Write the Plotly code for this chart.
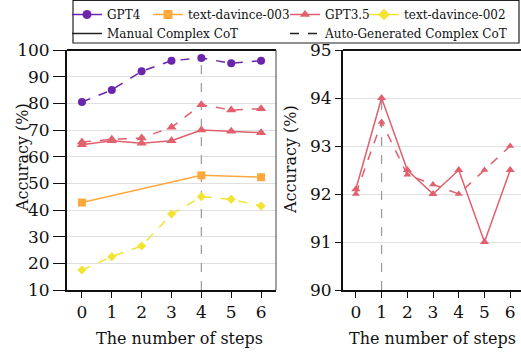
import plotly.graph_objects as go

steps = [0, 1, 2, 3, 4, 5, 6]
gpt4_auto = [80.5, 85, 92, 96, 97, 95, 96]
gpt35_auto = [65.5, 66.5, 67, 71, 79.5, 77.5, 78]
gpt35_manual = [64.5, 66, 65, 66, 70, 69.5, 69]
dv003_steps = [0, 4, 6]
dv003_manual = [42.8, 53, 52.3]
dv002_auto = [17.5, 22.5, 26.5, 38.5, 45, 44, 41.5]

r_gpt35_manual = [92.1, 94.0, 92.5, 92.0, 92.5, 91.0, 92.5]
r_gpt35_auto = [92.0, 93.5, 92.4, 92.2, 92.0, 92.5, 93.0]

left_best_step = 4
right_best_step = 1

C_GPT4 = "#6b25ad"
C_003 = "#fca83c"
C_35 = "#e0606e"
C_002 = "#f2e431"
FONT = "DejaVu Serif"

fig = go.Figure()

def add(x, y, color, symbol, dash, xa, ya, size=9):
    fig.add_trace(go.Scatter(x=x, y=y, mode="lines+markers", xaxis=xa, yaxis=ya,
                             line=dict(color=color, width=1.5, dash=dash),
                             marker=dict(color=color, symbol=symbol, size=size),
                             showlegend=False))

# left panel
fig.add_trace(go.Scatter(x=[left_best_step, left_best_step], y=[10, max(gpt4_auto)],
                         mode="lines", line=dict(color="#999999", width=1.2, dash="dash"),
                         xaxis="x", yaxis="y", showlegend=False))
add(steps, gpt4_auto, C_GPT4, "circle", "dash", "x", "y", 8)
add(steps, gpt35_auto, C_35, "triangle-up", "dash", "x", "y", 9)
add(steps, gpt35_manual, C_35, "triangle-up", "solid", "x", "y", 9)
add(dv003_steps, dv003_manual, C_003, "square", "solid", "x", "y", 8)
add(steps, dv002_auto, C_002, "diamond", "dash", "x", "y", 7)

# right panel
fig.add_trace(go.Scatter(x=[right_best_step, right_best_step], y=[90, max(r_gpt35_manual)],
                         mode="lines", line=dict(color="#999999", width=1.2, dash="dash"),
                         xaxis="x2", yaxis="y2", showlegend=False))
add(steps, r_gpt35_manual, C_35, "triangle-up", "solid", "x2", "y2", 8)
add(steps, r_gpt35_auto, C_35, "triangle-up", "dash", "x2", "y2", 7)

# legend entries
def leg(name, color, symbol, dash, legend, mode="lines+markers"):
    fig.add_trace(go.Scatter(x=[None], y=[None], name=name, mode=mode, legend=legend,
                             line=dict(color=color, width=1.5, dash=dash),
                             marker=dict(color=color, symbol=symbol, size=9)))

leg("GPT4", C_GPT4, "circle", "solid", "legend")
leg("Manual Complex CoT", "#222222", None, "solid", "legend", mode="lines")
leg("text-davince-003", C_003, "square", "solid", "legend2")
leg("GPT3.5", C_35, "triangle-up", "solid", "legend3")
leg("Auto-Generated Complex CoT", "#222222", None, "dash", "legend3", mode="lines")
leg("text-davince-002", C_002, "diamond", "solid", "legend4")

W, H = 521, 356
ML, MT, PW, PH = 67, 50, 454, 240

def lg(px, py):
    return dict(x=px / W, y=1 - py / H, xref="container", yref="container",
                xanchor="left", yanchor="top", bgcolor="rgba(0,0,0,0)",
                borderwidth=0, font=dict(family=FONT, size=12, color="#111"),
                itemwidth=30, tracegroupgap=0, traceorder="normal")

def px2paper(px, py):
    return (px - ML) / PW, (MT + PH - py) / PH

axis_common = dict(showline=True, linecolor="#111", linewidth=2, ticks="outside",
                   tickwidth=1.2, tickcolor="#111", mirror=False,
                   tickfont=dict(family=FONT, size=17, color="#111"), zeroline=False)

annotations = []
def title_ann(text, px, py, angle=0):
    x, y = px2paper(px, py)
    annotations.append(dict(text=text, x=x, y=y, xref="paper", yref="paper", showarrow=False,
                            xanchor="center", yanchor="middle", textangle=angle,
                            font=dict(family=FONT, size=16, color="#111")))

title_ann("The number of steps", 179, 338)
title_ann("The number of steps", 432, 338)
title_ann("Accuracy (%)", 22, 158, -90)
title_ann("Accuracy (%)", 290, 160, -90)

fig.update_layout(
    width=W, height=H,
    margin=dict(l=ML, r=0, t=MT, b=H - MT - PH, autoexpand=False),
    paper_bgcolor="white", plot_bgcolor="white",
    xaxis=dict(domain=[0, (276 - ML) / PW], range=[-0.5, 6.5], tickvals=steps, showgrid=False,
               ticklen=6, **axis_common),
    yaxis=dict(range=[10, 100], tickvals=list(range(10, 101, 10)), showgrid=True,
               gridcolor="#e0e0e0", gridwidth=1.2, ticklen=12, **axis_common),
    xaxis2=dict(domain=[(343 - ML) / PW, 1], range=[-0.5, 6.42], tickvals=steps, showgrid=False,
                anchor="y2", ticklen=6, **axis_common),
    yaxis2=dict(range=[90, 95], tickvals=[90, 91, 92, 93, 94, 95], anchor="x2", showgrid=True,
                gridcolor="#e0e0e0", gridwidth=1.2, ticklen=6, **axis_common),
    legend=lg(67, 0),
    legend2=lg(148, 0),
    legend3=lg(285, 0),
    legend4=lg(364, 0),
    annotations=annotations,
    shapes=[
        dict(type="line", xref="x domain", yref="y domain", x0=0, x1=1, y0=1, y1=1,
             line=dict(color="#111", width=2)),
        dict(type="line", xref="x domain", yref="y domain", x0=1, x1=1, y0=0, y1=1,
             line=dict(color="#444", width=1)),
        dict(type="line", xref="x2 domain", yref="y2 domain", x0=0, x1=1, y0=1, y1=1,
             line=dict(color="#111", width=2)),
        dict(type="rect", xref="paper", yref="paper",
             x0=px2paper(73, 0)[0], x1=px2paper(519, 0)[0],
             y0=px2paper(0, 43)[1], y1=px2paper(0, 0.5)[1],
             line=dict(color="#222", width=1.2), fillcolor="rgba(0,0,0,0)"),
    ],
)

fig.write_html("out.html")
